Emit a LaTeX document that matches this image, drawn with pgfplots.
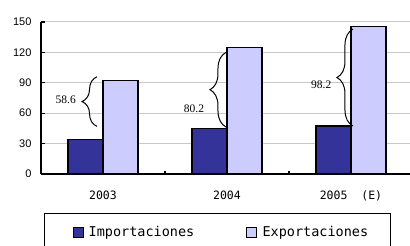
\documentclass[border=0pt]{standalone}
\usepackage{fontspec}
\setmainfont{Liberation Sans}
\newfontfamily\monofont{DejaVu Sans Mono}
\newfontfamily\seriffont{Liberation Serif}
\usepackage{pgfplots}
\pgfplotsset{compat=1.18}
\usetikzlibrary{decorations.pathreplacing}
\definecolor{imp}{HTML}{333399}
\definecolor{expc}{HTML}{CCCCFF}
\definecolor{gridc}{HTML}{C8C8C8}
\begin{document}
\begin{tikzpicture}
\begin{axis}[
 name=ax, at={(0,0)}, anchor=south west,
 scale only axis, width=369pt, height=152pt,
 xmin=-0.5, xmax=2.476, ymin=0, ymax=150,
 axis x line=bottom, axis y line=left,
 axis line style={line width=1.3pt, -},
 ytick={0,30,...,150}, ymajorgrids, grid style={gridc, line width=1pt},
 xtick={0,1,2}, xticklabels={2003,2004,{2005~~(E)}},
 minor xtick={0.5,1.5},
 major x tick style={draw=none},
 minor x tick style={draw=black, line width=1.3pt},
 minor tick length=3pt,
 xtick align=inside, ytick align=inside,
 major tick length=4pt,
 y tick style={black, line width=1.3pt},
 /pgf/number format/assume math mode=true,
 yticklabel style={font=\fontsize{11}{12}\selectfont, xshift=-6pt},
 xticklabel style={font=\monofont\fontsize{11.5}{13}\selectfont, yshift=-13pt},
 legend columns=2,
 legend style={at={(0,0)}, anchor=north west, xshift=3pt, yshift=-39pt,
   draw=black, line width=1pt, inner xsep=20pt, inner ysep=11pt,
   font=\monofont\fontsize{13.5}{15}\selectfont,
   /tikz/every even column/.append style={column sep=42pt}},
 legend cell align=left,
]
\addplot[ybar, bar width=35pt, bar shift=-17.5pt, fill=imp, draw=black, line width=1.2pt,
  legend image code/.code={\path (-8pt,0pt); \draw[fill=imp,draw=black,line width=1pt] (0pt,-5pt) rectangle (10pt,5pt); \path (13pt,0pt);}] coordinates {(0,34) (1,44.8) (2,47.4)};
\addplot[ybar, bar width=35pt, bar shift=17.5pt, fill=expc, draw=black, line width=1.2pt,
  legend image code/.code={\path (-8pt,0pt); \draw[fill=expc,draw=black,line width=1pt] (0pt,-5pt) rectangle (10pt,5pt); \path (13pt,0pt);}] coordinates {(0,92.6) (1,125) (2,145.6)};
\legend{Importaciones,Exportaciones}
\draw[decorate, decoration={brace, amplitude=15pt}, line width=1pt] (axis cs:-0.048,47) -- (axis cs:-0.048,96);
\draw[decorate, decoration={brace, amplitude=16pt}, line width=1pt] (axis cs:0.992,46.4) -- (axis cs:0.992,120);
\draw[decorate, decoration={brace, amplitude=16pt}, line width=1pt] (axis cs:2.016,47.4) -- (axis cs:2.016,143);
\node[font=\seriffont\fontsize{11.5}{12}\selectfont] at (axis cs:-0.30,73) {58.6};
\node[font=\seriffont\fontsize{11.5}{12}\selectfont] at (axis cs:0.734,64) {80.2};
\node[font=\seriffont\fontsize{11.5}{12}\selectfont] at (axis cs:1.76,88) {98.2};
\end{axis}
\pgfresetboundingbox
\useasboundingbox (-41pt,-72pt) rectangle (369pt,174pt);
\end{tikzpicture}
\end{document}
